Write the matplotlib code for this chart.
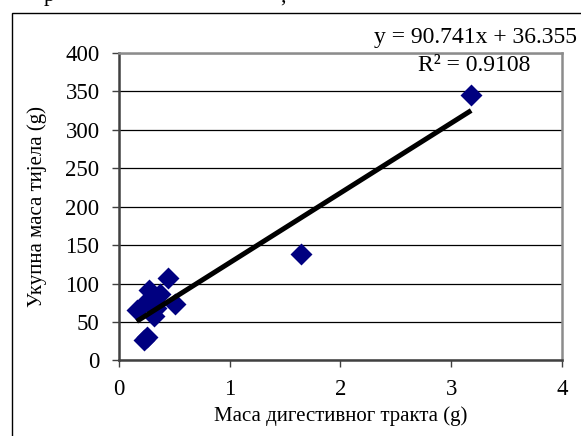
import matplotlib.pyplot as plt
import matplotlib.patches as mpatches
import numpy as np

plt.rcParams['font.family'] = ['Liberation Serif', 'DejaVu Serif']

# Маса дигестивног тракта (g) / Укупна маса тијела (g)
gut_mass = [0.16, 0.23, 0.25, 0.25, 0.27, 0.32, 0.33, 0.37, 0.44, 0.51, 1.64, 3.18]
body_mass = [65, 26, 30, 77, 91, 58, 68, 87, 107, 73, 139, 345]

slope, intercept = 90.741, 36.355
eq_text = 'y = 90.741x + 36.355'
r2_text = 'R² = 0.9108'

x_ticks = [0, 1, 2, 3, 4]
y_ticks = np.arange(0, 401, 50)

fig = plt.figure(figsize=(5.81, 4.36), dpi=100)
ax = fig.add_axes([0.2048, 0.1732, 0.7625, 0.7059])

ax.scatter(gut_mass, body_mass, marker='D', s=125, color='#000080', zorder=3, linewidths=0)

xs = np.array([min(gut_mass), max(gut_mass)])
ax.plot(xs, slope * xs + intercept, color='black', linewidth=3.6, zorder=4, solid_capstyle='butt')

ax.set_xlim(0, 4)
ax.set_ylim(0, 400)
ax.set_xticks(x_ticks)
ax.set_yticks(y_ticks)
ax.tick_params(axis='both', labelsize=16.5, direction='out', length=5, width=1, color='#404040')
ax.tick_params(axis='y', pad=9)
ax.tick_params(axis='x', pad=8)
ax.grid(True, axis='y', color='black', linewidth=0.9)
ax.set_axisbelow(True)

for side in ('left', 'bottom'):
    ax.spines[side].set_color('#404040')
    ax.spines[side].set_linewidth(1.8)
for side in ('top', 'right'):
    ax.spines[side].set_color('#8c8c8c')
    ax.spines[side].set_linewidth(1.8)

ax.set_xlabel('Маса дигестивног тракта (g)', fontsize=15, labelpad=5)
ax.set_ylabel('Укупна маса тијела (g)', fontsize=15, labelpad=13)

fig.text(0.993, 0.913, eq_text, ha='right', va='center', fontsize=17)
fig.text(0.817, 0.849, r2_text, ha='center', va='center', fontsize=17)

# рамка око графикона (одсјечена десно и доле)
frame = mpatches.Rectangle((11.5 / 581, -0.05), 1.0, 1 - 12.7 / 436 + 0.05,
                           transform=fig.transFigure, fill=False,
                           edgecolor='black', linewidth=1.0)
fig.patches.append(frame)

# остаци текста изнад рамке
fig.text(44 / 581, 0.997, 'р', ha='left', va='baseline', fontsize=16)
fig.text(280 / 581, 0.997, ',', ha='left', va='baseline', fontsize=16)

fig.savefig('out.png', dpi=100)
